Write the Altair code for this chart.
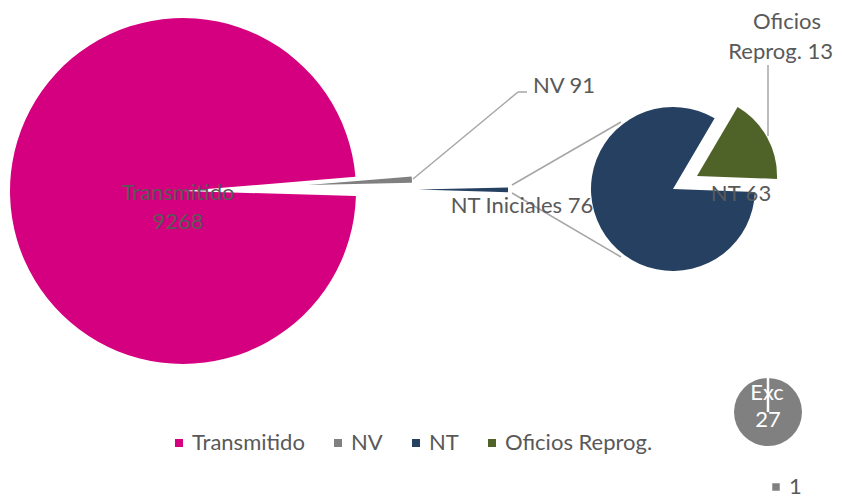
import math
import altair as alt
import pandas as pd

# ---- data ----
main_cats = ["NV", "NT Iniciales", "Transmitido"]
main_legend = ["NV", "NT", "Transmitido"]
main_vals = [91, 76, 9268]

sub_cats = ["Oficios Reprog.", "NT"]
sub_legend = ["Oficios Reprog.", "NT"]
sub_vals = [13, 63]

exc_cats = ["Exc"]
exc_series = ["1"]
exc_vals = [27]

legend_cats = ["Transmitido", "NV", "NT", "Oficios Reprog."]
legend_colors = ["#D5007F", "#808080", "#254061", "#4F6228"]

main_df = pd.DataFrame({"cat": main_cats, "leg": main_legend, "val": main_vals, "ord": list(range(len(main_cats)))})
sub_df = pd.DataFrame({"cat": sub_cats, "leg": sub_legend, "val": sub_vals, "ord": list(range(len(sub_cats)))})
exc_df = pd.DataFrame({"cat": exc_cats, "one": exc_series, "val": exc_vals})

FONT = "Lato"
TXT = "#595959"
LINE = "#A6A6A6"

cscale = alt.Scale(domain=legend_cats, range=legend_colors)
leg = alt.Legend(title=None, orient="none", legendX=160, legendY=424, direction="horizontal",
                 symbolType="square", symbolSize=64, symbolStrokeWidth=0, symbolOpacity=1,
                 labelFont=FONT, labelFontSize=22, labelColor=TXT, columnPadding=22,
                 labelOffset=2, padding=0)
leg2 = alt.Legend(title=None, orient="none", legendX=757, legendY=468, direction="horizontal",
                  symbolType="square", symbolSize=56, symbolStrokeWidth=0, symbolOpacity=1,
                  labelFont=FONT, labelFontSize=22, labelColor=TXT, labelOffset=2, padding=0)

main_total = sum(main_vals)
sub_total = sum(sub_vals)
main_start = math.radians(85.3)
sub_start = math.radians(30.5)


def slice_layer(df, total, start, cat, cx, cy, r):
    return (
        alt.Chart(df)
        .transform_stack(stack="val", as_=["v0", "v1"], groupby=[], sort=[alt.SortField("ord", order="ascending")])
        .transform_filter(alt.datum.cat == cat)
        .mark_arc(radius=r)
        .encode(
            theta=alt.Theta("v0:Q", stack=None,
                            scale=alt.Scale(domain=[0, total], range=[start, start + 2 * math.pi])),
            theta2="v1:Q",
            color=alt.Color("leg:N", scale=cscale, legend=leg),
            x=alt.value(cx),
            y=alt.value(cy),
        )
    )


def label(text, x, y, color=TXT, align="center", size=22):
    return (
        alt.Chart(pd.DataFrame({"t": [text]}))
        .mark_text(font=FONT, fontSize=size, color=color, align=align, baseline="middle")
        .encode(text="t:N", x=alt.value(x), y=alt.value(y))
    )


def line(x1, y1, x2, y2, color=LINE, w=1.5):
    return (
        alt.Chart(pd.DataFrame({"a": [0]}))
        .mark_rule(color=color, strokeWidth=w)
        .encode(x=alt.value(x1), y=alt.value(y1), x2=alt.value(x2), y2=alt.value(y2))
    )


arcs = alt.layer(
    slice_layer(main_df, main_total, main_start, "Transmitido", 175, 183, 173),
    slice_layer(main_df, main_total, main_start, "NV", 300, 177, 104),
    slice_layer(main_df, main_total, main_start, "NT Iniciales", 410, 181.5, 90),
    slice_layer(sub_df, sub_total, sub_start, "NT", 665, 181, 82),
    slice_layer(sub_df, sub_total, sub_start, "Oficios Reprog.", 689, 168, 80),
).resolve_scale(theta="independent")

exc_pie = (
    alt.Chart(exc_df)
    .mark_arc(radius=34)
    .encode(
        theta=alt.Theta("val:Q"),
        color=alt.Color("one:N", scale=alt.Scale(domain=exc_series, range=["#808080"]), legend=leg2),
        x=alt.value(760),
        y=alt.value(404),
    )
)

annotations = [
    line(405, 171, 510, 84),
    line(510, 84, 519, 84),
    line(760, 57, 760, 128),
    line(504, 177, 613, 114),
    line(504, 185, 613, 249),
    line(760, 370, 760, 404, color="white", w=2.5),
    label(main_cats[2], 170, 185),
    label(str(main_vals[2]), 170, 214),
    label(f"{main_cats[0]} {main_vals[0]}", 525, 78, align="left"),
    label(f"{main_cats[1]} {main_vals[1]}", 514, 198),
    label(f"{sub_cats[1]} {sub_vals[1]}", 733, 186),
    label("Oficios", 779, 14),
    label(f"Reprog. {sub_vals[0]}", 825, 44, align="right"),
    label(exc_cats[0], 759, 385, color="white"),
    label(str(exc_vals[0]), 760, 412, color="white"),
]

chart = (
    alt.layer(arcs, exc_pie, *annotations)
    .resolve_scale(color="independent", theta="independent")
    .properties(width=826, height=491, padding=0, autosize=alt.AutoSizeParams(type="none"))
    .configure_view(stroke=None)
)

chart.save("out.html", embed_options={"renderer": "svg", "actions": False})
